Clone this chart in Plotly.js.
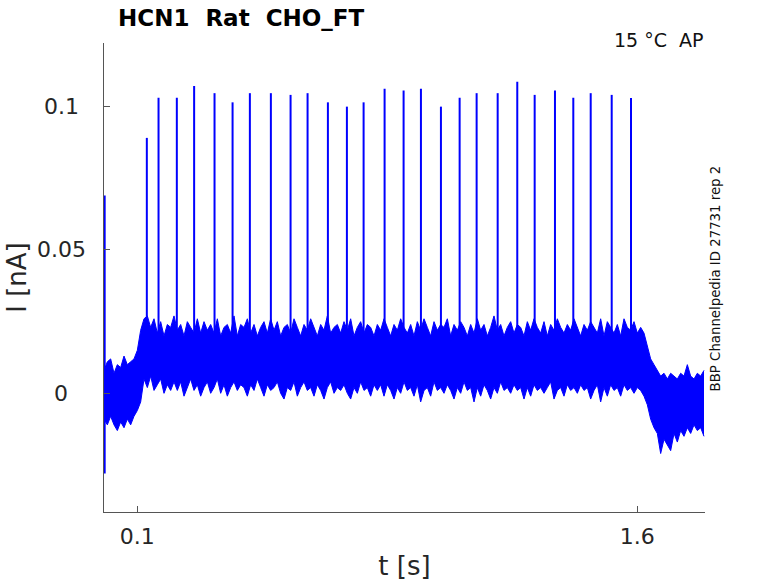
<!DOCTYPE html>
<html><head><meta charset="utf-8">
<script src="https://cdn.plot.ly/plotly-3.0.1.min.js"></script>
<style>html,body{margin:0;padding:0;background:#fff}</style>
</head><body>
<div id="chart" style="width:778px;height:583px"></div>
<script>
// sampling interval of the envelope readings (s)
const sampleStep = 0.01;
// upper envelope of the noisy current trace (nA), t = 0.00 ... 1.80 s
const upperEnv = [
0.008,0.011,0.012,0.007,0.010,0.009,0.013,0.010,0.011,0.012,0.015,
0.022,
0.026,0.027,0.023,0.026,0.021,0.025,0.020,0.024,0.023,0.027,
0.022,0.024,0.020,0.025,0.023,0.021,0.026,0.021,0.025,0.022,
0.024,0.021,0.026,0.020,0.023,0.024,0.021,0.027,0.020,0.024,
0.023,0.026,0.021,0.024,0.020,0.023,0.025,0.021,0.026,0.022,
0.025,0.020,0.023,0.024,0.021,0.026,0.023,0.020,0.024,0.022,
0.026,0.023,0.020,0.024,0.022,0.027,0.021,0.023,0.024,0.021,
0.025,0.022,0.026,0.020,0.023,0.025,0.021,0.024,0.023,0.020,
0.024,0.022,0.026,0.023,0.020,0.024,0.022,0.026,0.023,0.021,
0.024,0.020,0.025,0.022,0.026,0.023,0.020,0.025,0.022,0.024,
0.023,0.026,0.020,0.024,0.022,0.025,0.023,0.020,0.024,0.021,
0.026,0.022,0.024,0.020,0.023,0.027,0.022,0.024,0.020,0.023,
0.025,0.021,0.024,0.023,0.020,0.025,0.022,0.026,0.023,0.021,
0.025,0.020,0.024,0.022,0.026,0.023,0.021,0.024,0.022,0.026,
0.023,0.020,0.024,0.022,0.025,0.023,0.021,0.026,0.020,0.025,
0.023,0.021,0.024,0.020,0.026,0.023,0.022,0.025,0.021,0.023,
0.021,0.016,0.012,0.010,0.008,0.006,0.007,0.005,0.007,0.006,
0.005,0.007,0.006,0.010,0.006,0.005,0.007,0.006,0.008
];
// lower envelope of the noisy current trace (nA)
const lowerEnv = [
-0.009,-0.011,-0.008,-0.011,-0.013,-0.010,-0.012,-0.009,-0.011,-0.008,-0.006,
-0.003,
0.005,0.002,0.006,0.001,0.003,0.005,0.000,0.003,0.001,0.004,
0.001,0.004,-0.001,0.002,0.005,0.001,0.003,-0.001,0.002,0.004,
0.000,0.002,0.005,0.000,0.003,-0.001,0.002,0.004,0.001,0.003,
0.002,-0.001,0.003,0.001,0.005,0.002,-0.001,0.003,0.001,0.002,
0.004,0.000,-0.002,0.002,0.001,0.004,-0.001,0.002,0.004,0.001,
0.002,-0.001,0.003,0.001,-0.002,0.002,0.004,0.000,0.002,0.001,
0.003,0.000,-0.002,0.002,0.000,0.004,0.001,0.002,-0.001,0.003,
0.001,0.003,-0.001,0.003,0.001,-0.002,0.002,0.000,0.004,0.001,
0.002,-0.001,0.003,-0.003,0.001,0.002,-0.001,0.004,0.001,0.002,
0.000,0.003,0.001,-0.002,0.002,0.000,0.004,0.001,0.002,-0.003,
0.002,-0.001,0.003,0.001,-0.002,0.002,0.000,0.004,0.001,0.002,
0.000,0.003,0.001,0.002,-0.002,0.002,-0.001,0.003,0.001,0.002,
0.000,0.002,0.004,-0.002,0.001,0.002,-0.001,0.003,0.001,0.002,
0.000,0.003,0.001,0.002,-0.002,0.001,0.003,-0.003,0.002,-0.001,
0.003,0.001,0.002,-0.001,0.003,0.001,0.002,0.000,0.002,0.001,
-0.001,-0.004,-0.009,-0.012,-0.014,-0.021,-0.016,-0.018,-0.020,-0.014,
-0.017,-0.013,-0.015,-0.012,-0.014,-0.011,-0.013,-0.012,-0.015
];
// action potential spikes: times (s) and peak currents (nA)
const spikeTimes = [0.1285,0.1636,0.2185,0.2704,0.3316,0.3857,0.4376,0.5006,0.5597,0.6107,
  0.6717,0.7287,0.7788,0.8418,0.8988,0.9508,1.0108,1.0669,1.1179,1.1810,
  1.2398,1.2920,1.3529,1.4079,1.4601,1.5231,1.5810];
const spikePeaks = [0.0891,0.1031,0.1031,0.1072,0.1047,0.1015,0.1047,0.1047,0.1041,0.1047,
  0.1015,0.1000,0.1015,0.1062,0.1056,0.1062,0.1000,0.1031,0.1047,0.1047,
  0.1087,0.1041,0.1056,0.1031,0.1047,0.1041,0.1030];
const spikeBase = 0.016;
// capacitive transient at the start of the sweep
const transientT = [0.002, 0.002];
const transientI = [0.069, -0.028];
// ticks
const xTickVals = [0.1, 1.6];
const xTickText = ['0.1', '1.6'];
const yTickVals = [0, 0.05, 0.1];
const yTickText = ['0', '0.05', '0.1'];

const tEnv = upperEnv.map((_, i) => +(i * sampleStep).toFixed(3));
const spikeX = [], spikeY = [];
spikeTimes.forEach((t, i) => { spikeX.push(t, t, null); spikeY.push(spikeBase, spikePeaks[i], null); });

const blue = '#0000ff';
const traces = [
  {x: tEnv, y: lowerEnv, type: 'scatter', mode: 'lines', line: {color: blue, width: 1}, hoverinfo: 'skip', showlegend: false},
  {x: tEnv, y: upperEnv, type: 'scatter', mode: 'lines', fill: 'tonexty', fillcolor: blue, line: {color: blue, width: 1}, hoverinfo: 'skip', showlegend: false},
  {x: spikeX, y: spikeY, type: 'scatter', mode: 'lines', line: {color: blue, width: 2}, connectgaps: false, showlegend: false},
  {x: transientT, y: transientI, type: 'scatter', mode: 'lines', line: {color: blue, width: 2}, showlegend: false}
];

const font = 'DejaVu Sans, sans-serif';
const annotations = yTickVals.map((v, i) => ({
  text: yTickText[i], xref: 'paper', yref: 'y', x: -0.0715, y: v,
  xanchor: 'center', yanchor: 'middle', showarrow: false,
  font: {family: font, size: 22, color: '#262626'}
}));
annotations.push({
  text: '15\u00A0°C\u00A0\u00A0AP', xref: 'paper', yref: 'paper', x: 1.0017, y: 1.0058,
  xanchor: 'right', yanchor: 'middle', showarrow: false,
  font: {family: font, size: 19, color: '#111'}
});
annotations.push({
  text: 'BBP Channelpedia ID 27731 rep 2', xref: 'paper', yref: 'paper', x: 1.019, y: 0.499,
  xanchor: 'center', yanchor: 'middle', textangle: -90, showarrow: false,
  font: {family: font, size: 13.3, color: '#111'}
});

const layout = {
  width: 778, height: 583,
  margin: {l: 104, r: 73, t: 43, b: 71, pad: 0},
  paper_bgcolor: '#fff', plot_bgcolor: '#fff',
  title: {text: '<b>HCN1\u00A0\u00A0Rat\u00A0\u00A0CHO_FT</b>', font: {family: font, size: 23, color: '#000'},
          xref: 'container', yref: 'container', x: 118/778, xanchor: 'left', y: 1 - 18/583, yanchor: 'middle'},
  xaxis: {range: [0, 1.803], tickvals: xTickVals, ticktext: xTickText, ticks: 'inside', ticklen: 6, tickwidth: 1,
          tickcolor: '#555', showline: true, linecolor: '#555', linewidth: 1, mirror: false, showgrid: false, zeroline: false,
          tickfont: {family: font, size: 22, color: '#262626'}, ticklabelstandoff: 5,
          title: {text: 't [s]', font: {family: font, size: 26, color: '#262626'}, standoff: 8}},
  yaxis: {range: [-0.0414, 0.1222], tickvals: yTickVals, ticks: 'inside', ticklen: 6, tickwidth: 1, showticklabels: false,
          tickcolor: '#555', showline: true, linecolor: '#555', linewidth: 1, mirror: false, showgrid: false, zeroline: false,
          title: {text: 'I [nA]', font: {family: font, size: 26, color: '#262626'}, standoff: 68}},
  annotations: annotations,
  showlegend: false
};
Plotly.newPlot('chart', traces, layout, {displayModeBar: false, staticPlot: true});
</script>
</body></html>
